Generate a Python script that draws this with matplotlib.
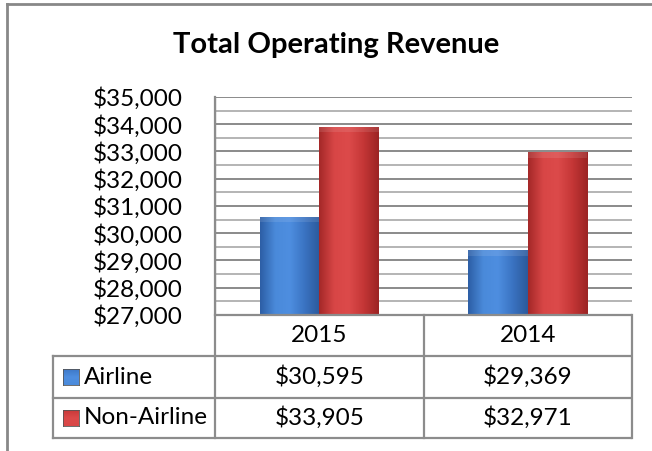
import numpy as np
import matplotlib
matplotlib.use("Agg")
import matplotlib.pyplot as plt
from matplotlib.lines import Line2D
from matplotlib.patches import Rectangle
from matplotlib.colors import LinearSegmentedColormap
from matplotlib.transforms import blended_transform_factory

# data
anos = ["2015", "2014"]
series = ["Airline", "Non-Airline"]
airline = [30595, 29369]
non_airline = [33905, 32971]
yticks = [27000, 28000, 29000, 30000, 31000, 32000, 33000, 34000, 35000]

W, H = 652, 451
fig = plt.figure(figsize=(W / 100, H / 100), dpi=100)
plt.rcParams['font.family'] = ['Lato', 'DejaVu Sans']

def fx(x):
    return x / W

def fy(y):
    return 1 - y / H

# area do grafico
x0, x1, ytop, ybot = 215, 632, 97, 315
ax = fig.add_axes([fx(x0), fy(ybot), fx(x1) - fx(x0), fy(ytop) - fy(ybot)])
ax.set_xlim(-0.5, 1.5)
ax.set_ylim(27000, 35000)
for s in ax.spines.values():
    s.set_visible(False)
ax.set_xticks([])
ax.set_yticks(yticks)
ax.set_yticklabels(["${:,}".format(v) for v in yticks], fontsize=17.5)
ax.tick_params(axis='y', length=0, pad=23)

# linhas de grade a cada 500
for v in np.arange(27500, 35001, 500):
    cor = '#8a8a8a' if v % 1000 == 0 else '#b4b4b4'
    ax.axhline(v, color=cor, lw=1.4, zorder=0)

gray = '#8c8c8c'
ax.axvline(-0.5, color=gray, lw=1.6, zorder=1)

# barras com degradê
largura = 0.285
x = np.arange(len(anos))
cmap_azul = LinearSegmentedColormap.from_list('az', ['#2d5fa6', '#4a8ada', '#4e8ee0', '#3a73c2', '#2c5a9c'])
cmap_verm = LinearSegmentedColormap.from_list('vm', ['#a52828', '#d84646', '#dc4a4a', '#c43636', '#9c2424'])
grad = np.linspace(0, 1, 64).reshape(1, -1)
for vals, off, cmap in [(airline, -largura / 2, cmap_azul), (non_airline, largura / 2, cmap_verm)]:
    bars = ax.bar(x + off, np.array(vals) - 27000, largura, bottom=27000,
                  color='none', edgecolor='none', zorder=2)
    for b in bars:
        bx, by, bw, bh = b.get_x(), b.get_y(), b.get_width(), b.get_height()
        im = ax.imshow(grad, cmap=cmap, aspect='auto', extent=(bx, bx + bw, by, by + bh),
                       zorder=2, interpolation='bicubic')
        im.set_clip_path(b)
        # bisel no topo
        ax.add_patch(Rectangle((bx, by + bh - 200), bw, 200, facecolor='white',
                               alpha=0.1, edgecolor='none', zorder=3))
ax.set_xlim(-0.5, 1.5)
ax.set_ylim(27000, 35000)

# titulo
fig.text(fx(336), fy(45), "Total Operating Revenue", fontsize=21, fontweight='bold',
         ha='center', va='center')

# tabela de dados
tr = blended_transform_factory(ax.transData, fig.transFigure)
def hline(xa, xb, y):
    fig.add_artist(Line2D([fx(xa), fx(xb)], [fy(y), fy(y)], color=gray, lw=1.6))

def vline_data(xd, ya, yb):
    fig.add_artist(Line2D([xd, xd], [fy(ya), fy(yb)], color=gray, lw=1.6, transform=tr))

y_head, y_r1, y_r2, y_fim = 315, 356, 398, 438
hline(215, 631, y_head)
for y in [y_r1, y_r2, y_fim]:
    hline(53, 631, y)
fig.add_artist(Line2D([fx(53), fx(53)], [fy(y_r1), fy(y_fim)], color=gray, lw=1.6))
vline_data(-0.5, ytop, y_fim)
vline_data(0.5, y_head, y_fim)
vline_data(1.5, y_head, y_fim)

for i, a in enumerate(anos):
    fig.text(x[i], fy(336), a, transform=tr, fontsize=17.5, ha='center', va='center')

cores_leg = [cmap_azul, cmap_verm]
for r, (nome, vals) in enumerate([(series[0], airline), (series[1], non_airline)]):
    yc = [377, 418][r]
    sq = fig.add_axes([fx(63), fy(yc + 8), fx(16), 16 / H])
    sq.imshow(np.linspace(1, 0, 16).reshape(-1, 1) * 0.4 + 0.3, cmap=cores_leg[r],
              aspect='auto', vmin=0, vmax=1)
    sq.set_xticks([]); sq.set_yticks([])
    for s in sq.spines.values():
        s.set_color('#555555'); s.set_linewidth(0.6)
    fig.text(fx(84), fy(yc), nome, fontsize=17.5, ha='left', va='center')
    for i, v in enumerate(vals):
        fig.text(x[i], fy(yc), "${:,}".format(v), transform=tr, fontsize=17.5,
                 ha='center', va='center')

# borda externa
fig.add_artist(Line2D([fx(7), fx(7)], [fy(4), 0], color='#888888', lw=2))
fig.add_artist(Line2D([fx(7), 1], [fy(4), fy(4)], color='#888888', lw=2))

fig.savefig("out.png", dpi=100)
